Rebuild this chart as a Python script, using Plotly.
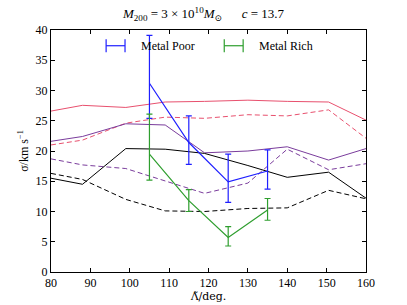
import plotly.graph_objects as go

# ---- data ----
x_model = [80, 88, 99, 109, 119, 130, 140, 150.5, 160]
red_solid = [26.6, 27.55, 27.2, 28.1, 28.2, 28.4, 28.2, 28.1, 25.1]
red_dashed = [21.0, 21.8, 24.6, 25.6, 25.4, 26.0, 25.8, 26.8, 22.1]
purple_solid = [21.6, 22.4, 24.5, 24.3, 19.7, 20.0, 20.7, 18.5, 20.4]
purple_dashed = [18.7, 17.7, 17.1, 15.0, 13.0, 14.7, 20.3, 16.9, 17.9]
black_solid = [15.5, 14.5, 20.4, 20.3, 19.6, 17.6, 15.65, 16.5, 12.2]
black_dashed = [16.3, 15.3, 12.0, 10.1, 10.0, 10.5, 10.6, 13.5, 12.1]

x_obs = [105, 115, 125, 135]
poor_y = [31.2, 21.4, 14.9, 16.7]
poor_err_plus = [7.9, 4.4, 4.6, 3.5]
poor_err_minus = [5.8, 3.6, 3.4, 3.0]
rich_y = [19.5, 11.8, 5.7, 10.25]
rich_err_plus = [6.6, 1.8, 1.8, 1.9]
rich_err_minus = [4.3, 1.8, 1.4, 1.7]

x_ticks = [80, 90, 100, 110, 120, 130, 140, 150, 160]
y_ticks = [0, 5, 10, 15, 20, 25, 30, 35, 40]

RED = "#e8506e"
PURPLE = "#7a3c9c"
BLACK = "#000000"
BLUE = "#1f1fff"
GREEN = "#2e9e2e"
FONT = "Liberation Serif, DejaVu Serif, serif"

fig = go.Figure()

def model(y, color, dash):
    fig.add_trace(go.Scatter(x=x_model, y=y, mode="lines",
                             line=dict(color=color, width=1, dash=dash),
                             showlegend=False, hoverinfo="skip"))

model(red_solid, RED, "solid")
model(red_dashed, RED, "5px,3px")
model(purple_solid, PURPLE, "solid")
model(purple_dashed, PURPLE, "5px,3px")
model(black_solid, BLACK, "solid")
model(black_dashed, BLACK, "5px,3px")

for y, ep, em, c, name in [(poor_y, poor_err_plus, poor_err_minus, BLUE, "Metal Poor"),
                           (rich_y, rich_err_plus, rich_err_minus, GREEN, "Metal Rich")]:
    fig.add_trace(go.Scatter(x=x_obs, y=y, mode="lines", name=name,
                             line=dict(color=c, width=1.2),
                             error_y=dict(type="data", symmetric=False, array=ep,
                                          arrayminus=em, color=c, thickness=1.2, width=3),
                             showlegend=False))

# ---- hand-built legend (errorbar-style symbols) ----
shapes = []
annotations = []
for x0, x1, c, label in [(0.175, 0.235, BLUE, "Metal Poor"),
                         (0.55, 0.61, GREEN, "Metal Rich")]:
    ly = 0.935
    shapes.append(dict(type="line", xref="paper", yref="paper", x0=x0, x1=x1, y0=ly, y1=ly,
                       line=dict(color=c, width=1.2)))
    for xx in (x0, x1):
        shapes.append(dict(type="line", xref="paper", yref="paper", x0=xx, x1=xx,
                           y0=ly - 0.027, y1=ly + 0.027, line=dict(color=c, width=1.2)))
    annotations.append(dict(xref="paper", yref="paper", x=x1 + 0.045, y=ly, text=label,
                            showarrow=False, xanchor="left", yanchor="middle",
                            font=dict(family=FONT, size=12, color="black")))

axis_common = dict(showline=True, linecolor="black", linewidth=1, mirror="allticks",
                   ticks="inside", ticklen=4, tickcolor="black", showgrid=False,
                   zeroline=False, automargin=False,
                   tickfont=dict(family=FONT, size=12, color="black"))

fig.update_layout(
    width=407, height=305,
    margin=dict(l=51, r=41, t=30, b=33),
    paper_bgcolor="white", plot_bgcolor="white",
    font=dict(family=FONT),
    title=dict(text="<i>M</i><sub>200</sub> = 3 × 10<sup>10</sup><i>M</i><sub>⊙</sub>      <i>c</i> = 13.7",
               x=0.5, xanchor="center", y=0.955, yanchor="middle", automargin=False,
               font=dict(family=FONT, size=13, color="black")),
    xaxis=dict(range=[80, 160], tickvals=x_ticks,
               title=dict(text="Λ̃/deg.",
                          font=dict(family="DejaVu Serif, Liberation Serif, serif", size=11, color="black"),
                          standoff=2),
               **axis_common),
    yaxis=dict(range=[0, 40], tickvals=y_ticks,
               title=dict(text="σ/km s<sup>−1</sup>", font=dict(family=FONT, size=12, color="black"), standoff=4),
               **axis_common),
    shapes=shapes, annotations=annotations,
    showlegend=False,
)

fig.write_html("out.html", config={"displayModeBar": False},
               post_script="document.body.style.margin='0px';")
